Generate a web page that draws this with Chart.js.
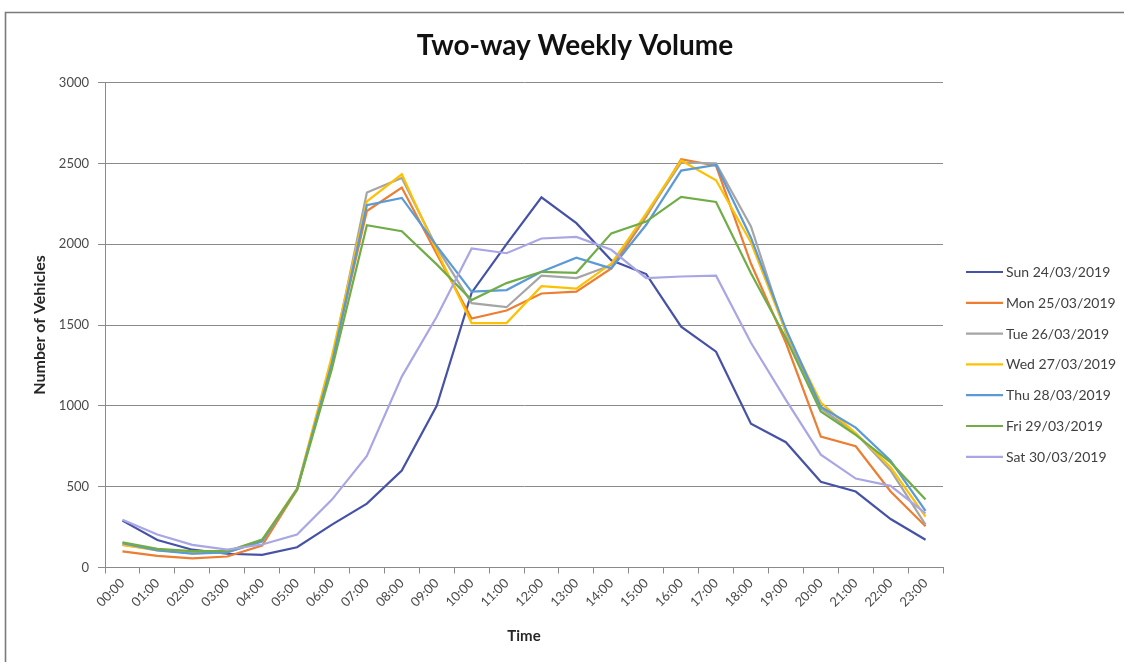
<!DOCTYPE html>
<html>
<head>
<meta charset="utf-8">
<script src="https://cdn.jsdelivr.net/npm/chart.js"></script>
<style>
  html, body { margin: 0; padding: 0; background: #ffffff; }
  #wrap { width: 1124px; height: 662px; position: relative; }
</style>
</head>
<body>
<div id="wrap"><canvas id="c" width="1124" height="662"></canvas></div>
<script>
const hours = ['00:00','01:00','02:00','03:00','04:00','05:00','06:00','07:00','08:00','09:00','10:00','11:00',
               '12:00','13:00','14:00','15:00','16:00','17:00','18:00','19:00','20:00','21:00','22:00','23:00'];

const seriesNames = ['Sun 24/03/2019','Mon 25/03/2019','Tue 26/03/2019','Wed 27/03/2019',
                     'Thu 28/03/2019','Fri 29/03/2019','Sat 30/03/2019'];

const sun = [290,170,110,85,78,125,265,395,600,1000,1700,2000,2290,2130,1900,1815,1490,1335,890,775,530,470,300,172];
const mon = [100,72,56,68,135,480,1270,2205,2350,1940,1540,1590,1695,1706,1850,2170,2525,2485,1880,1390,810,750,470,255];
const tue = [140,110,88,95,160,485,1280,2320,2410,1980,1635,1610,1805,1790,1870,2180,2505,2500,2110,1450,985,830,600,265];
const wed = [140,105,95,100,170,490,1310,2265,2432,1960,1512,1512,1740,1725,1880,2190,2518,2395,2010,1460,1020,830,620,315];
const thu = [150,105,86,93,163,485,1265,2241,2286,1990,1706,1716,1829,1916,1850,2120,2455,2490,2040,1475,995,865,660,350];
const fri = [156,115,101,101,173,480,1230,2117,2080,1875,1654,1759,1829,1823,2067,2140,2292,2261,1820,1420,965,820,650,420];
const sat = [296,204,140,111,142,204,420,690,1181,1551,1973,1944,2035,2045,1965,1790,1800,1805,1390,1037,698,550,505,335];

const yTicks = [0,500,1000,1500,2000,2500,3000];

const seriesValues = [sun, mon, tue, wed, thu, fri, sat];
const seriesColors = ['#4652A6','#ED7D31','#A5A5A5','#FFC000','#5B9BD5','#70AD47','#A8A6E4'];

const GRID = '#8a8a8a';
const FONT = 'Lato, "Open Sans", sans-serif';

const datasets = seriesValues.map((vals, i) => ({
  label: seriesNames[i],
  data: vals,
  borderColor: seriesColors[i],
  backgroundColor: seriesColors[i],
  borderWidth: 2.2,
  pointRadius: 0,
  pointHoverRadius: 0,
  tension: 0,
  fill: false,
  order: seriesValues.length - i
}));

const framePlugin = {
  id: 'frame',
  beforeDraw(chart) {
    const ctx = chart.ctx;
    ctx.save();
    ctx.fillStyle = '#ffffff';
    ctx.fillRect(0, 0, chart.width, chart.height);
    ctx.strokeStyle = '#7a7a7a';
    ctx.lineWidth = 1.6;
    ctx.beginPath();
    ctx.moveTo(5.5, chart.height);
    ctx.lineTo(5.5, 12.5);
    ctx.lineTo(chart.width, 12.5);
    ctx.stroke();
    ctx.restore();
  }
};

const legendPlugin = {
  id: 'sideLegend',
  afterDraw(chart) {
    const ctx = chart.ctx;
    const area = chart.chartArea;
    ctx.save();
    ctx.font = '14px ' + FONT;
    ctx.textBaseline = 'middle';
    ctx.textAlign = 'left';
    const x0 = area.right + 23;
    const y0 = 272;
    const step = 30.8;
    chart.data.datasets.forEach((ds, i) => {
      const y = y0 + i * step;
      ctx.strokeStyle = ds.borderColor;
      ctx.lineWidth = 2.2;
      ctx.beginPath();
      ctx.moveTo(x0, y);
      ctx.lineTo(x0 + 37, y);
      ctx.stroke();
      ctx.fillStyle = '#404040';
      ctx.fillText(ds.label, x0 + 40, y + 0.5);
    });
    ctx.restore();
  }
};

new Chart(document.getElementById('c'), {
  type: 'line',
  data: { labels: hours, datasets },
  plugins: [framePlugin, legendPlugin],
  options: {
    responsive: false,
    animation: false,
    devicePixelRatio: 1,
    layout: { padding: { left: 26, right: 0, top: 0, bottom: 0 } },
    plugins: {
      legend: { display: false },
      tooltip: { enabled: false },
      title: {
        display: true,
        text: 'Two-way Weekly Volume',
        color: '#111111',
        font: { family: FONT, size: 28, weight: 'bold' },
        padding: { top: 29.5, bottom: 19.4 }
      }
    },
    scales: {
      x: {
        type: 'category',
        offset: true,
        grid: { display: true, drawOnChartArea: false, drawTicks: true, tickLength: 6, offset: true, color: GRID },
        border: { display: true, color: GRID, width: 1 },
        ticks: {
          color: '#4a4a4a',
          font: { family: FONT, size: 13 },
          minRotation: 45, maxRotation: 45,
          autoSkip: false,
          padding: 2
        },
        title: {
          display: true, text: 'Time', color: '#262626',
          font: { family: FONT, size: 15, weight: 'bold' },
          padding: { top: 4, bottom: 17 }
        },
        afterFit(s) { s.height = 94.5; }
      },
      y: {
        type: 'linear',
        position: 'left',
        min: 0, max: 3000,
        afterBuildTicks(s) { s.ticks = yTicks.map(v => ({ value: v })); },
        grid: { color: GRID, lineWidth: 1, tickLength: 7, drawTicks: true },
        border: { display: true, color: GRID, width: 1 },
        ticks: {
          color: '#4a4a4a',
          font: { family: FONT, size: 13 },
          padding: 9,
          callback: (v) => String(v)
        },
        title: {
          display: true, text: 'Number of Vehicles', color: '#262626',
          font: { family: FONT, size: 16, weight: 'bold' },
          padding: { top: 4, bottom: 0 }
        },
        afterFit(s) { s.width = 79; }
      },
      yRightSpace: {
        type: 'linear',
        position: 'right',
        display: true,
        grid: { display: false, drawTicks: false },
        border: { display: false },
        ticks: { display: false },
        afterFit(s) { s.width = 181; }
      }
    }
  }
});
</script>
</body>
</html>
